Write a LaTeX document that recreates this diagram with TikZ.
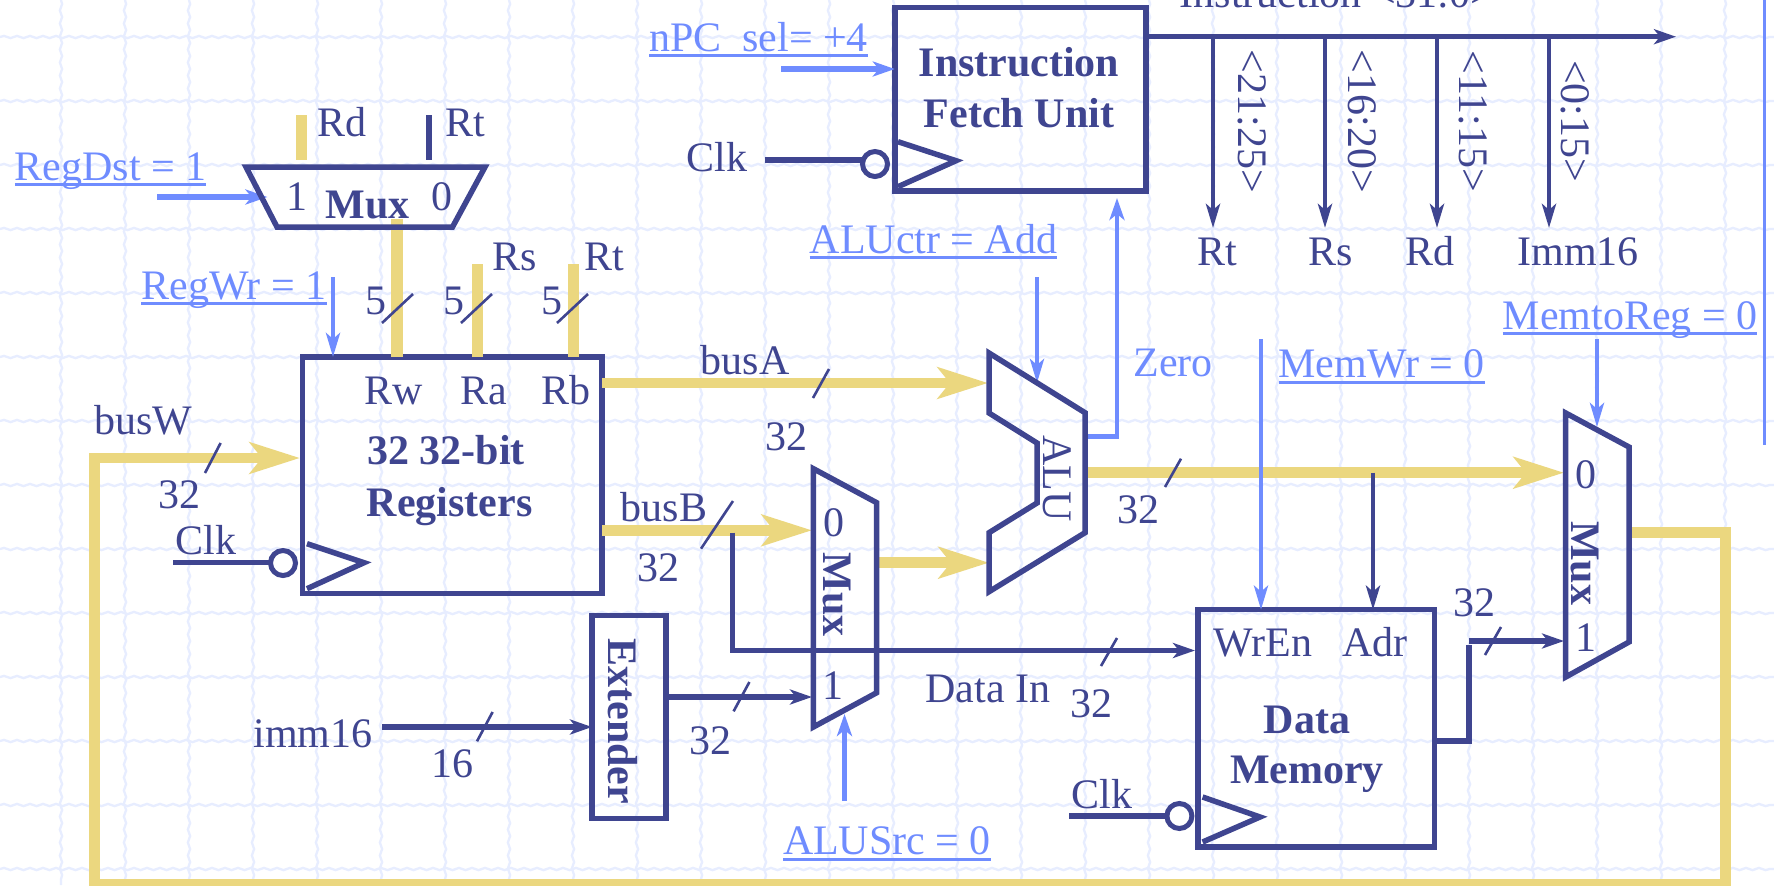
\documentclass[tikz,border=0pt]{standalone}
\usepackage{fontspec}
\setmainfont{Liberation Serif}
\usetikzlibrary{arrows.meta,decorations.pathmorphing}
\definecolor{navy}{HTML}{3F4590}
\definecolor{gold}{HTML}{EBD77F}
\definecolor{sky}{HTML}{6F8CFF}
\definecolor{gridc}{HTML}{E7EDFF}
\tikzset{
  gridline/.style={draw=gridc,line width=1.15pt,decorate,decoration={snake,segment length=6.5pt,amplitude=0.55pt}},
  boxn/.style={draw=navy,line width=2.75pt,inner sep=0pt,outer sep=0pt},
  shapeline/.style={draw=navy,line width=2.75pt,line join=miter},
  txt/.style={font=\fontsize{21}{25}\selectfont,text=navy,inner sep=0pt,outer sep=0pt,anchor=base,yshift=-0.6pt},
  btxt/.style={txt,font=\fontsize{21}{25}\selectfont\bfseries},
  ctl/.style={txt,text=sky},
  rot/.style={rotate=-90},
  goldw/.style={draw=gold,line width=5.3pt},
  goldhead/.style={goldw,-{Stealth[length=25pt,width=15.5pt,inset=6pt,color=gold]}},
  navyw/.style={draw=navy,line width=2.75pt},
  navyhead/.style={navyw,-{Stealth[length=11pt,width=7.5pt,inset=3pt,color=navy]}},
  navythin/.style={draw=navy,line width=2.2pt,-{Stealth[length=12pt,width=7pt,inset=3pt,color=navy]}},
  skyhead/.style={draw=sky,line width=2.3pt,-{Stealth[length=11pt,width=7.5pt,inset=3pt,color=sky]}},
  skyfat/.style={skyhead,line width=2.75pt},
  skythin/.style={draw=sky,line width=2.1pt,-{Stealth[length=12pt,width=7pt,inset=3pt,color=sky]}},
  tickmark/.style={draw=navy,line width=1.3pt},
  bubble/.style={circle,draw=navy,line width=2.5pt,minimum size=12.5pt,inner sep=0pt,outer sep=0pt},
  clkwire/.style={draw=navy,line width=2.75pt},
}
\newcommand{\lab}[4]{\node[txt] (#1) at (#2,#3) {#4};}
\newcommand{\blab}[4]{\node[btxt] (#1) at (#2,#3) {#4};}
\newcommand{\ulab}[4]{\node[ctl] (#1) at (#2,#3) {#4};
  \draw[sky,line width=1.5pt] ([yshift=-2.3pt]#1.base west) -- ([yshift=-2.3pt]#1.base east);}
\newcommand{\tickm}[4]{\draw[tickmark] (#1,#2) -- (#3,#4);}
\begin{document}
\begin{tikzpicture}[x=0.5pt,y=-0.5pt]
\useasboundingbox (0,0) rectangle (1774,885);
\fill[white] (0,0) rectangle (1774,885);
% background grid
\foreach \gx in {61,125,...,1725} {\draw[gridline] (\gx,0) -- (\gx,885);}
\foreach \gy in {37,101,...,869} {\draw[gridline] (0,\gy) -- (1774,\gy);}
\draw[sky,line width=1.5pt] (1764.5,0) -- (1764.5,445);

% ---- port coordinates
\coordinate (rdTop) at (301.5,115); \coordinate (rdBot) at (301.5,160);
\coordinate (rtTop) at (429,115);   \coordinate (rtBot) at (429,160);
\coordinate (rwTop) at (397,219);
\coordinate (raTop) at (477.4,264);
\coordinate (rbTop) at (573.5,264);
\coordinate (busAtip) at (988,383);
\coordinate (busBtip) at (812,530.3);
\coordinate (muxAluOut) at (877,562.7);
\coordinate (aluBtip) at (989,562.7);
\coordinate (aluOutL) at (1085,472.7);
\coordinate (mux3in0) at (1564,472.7);
\coordinate (mux3out) at (1629,532.7);
\coordinate (fbC1) at (1725.6,532.7);
\coordinate (fbC2) at (1725.6,884);
\coordinate (fbC3) at (94.5,884);
\coordinate (fbC4) at (94.5,458);
\coordinate (regsW) at (300,458);

% ---- boxes
\node[boxn,minimum width=125.5pt,minimum height=91.75pt] (ifu) at (1020.3,99.25) {};
\node[boxn,minimum width=149.7pt,minimum height=118.35pt] (regs) at (452.3,475.35) {};
\node[boxn,minimum width=37pt,minimum height=101.7pt] (ext) at (629,717) {};
\node[boxn,minimum width=118.25pt,minimum height=118.65pt] (dmem) at (1316.25,728.35) {};

% ---- gold buses
\draw[gold,line width=5.6pt] (rdTop) -- (rdBot);
\draw[gold,line width=5.6pt] (rwTop) -- (rwTop |- regs.north);
\draw[gold,line width=5.6pt] (raTop) -- (raTop |- regs.north);
\draw[gold,line width=5.6pt] (rbTop) -- (rbTop |- regs.north);
\draw[goldhead] (regs.east |- busAtip) -- (busAtip);
\draw[goldhead] (regs.east |- busBtip) -- (busBtip);
\draw[goldhead] (muxAluOut) -- (aluBtip);
\draw[goldhead] (aluOutL) -- (mux3in0);
\draw[goldhead,line join=miter] (mux3out) -- (fbC1) -- (fbC2) -- (fbC3) -- (fbC4) -- (regsW);

% ---- control lines and sky arrows
\coordinate (npcS) at (781,69);
\draw[skyfat] (npcS) -- (ifu.west |- npcS);
\coordinate (rdS) at (157,197); \coordinate (rdE) at (267.5,197);
\draw[skyfat] (rdS) -- (rdE);
\coordinate (rwS) at (333,277);
\draw[skythin] (rwS) -- (rwS |- regs.north);
\coordinate (aluS) at (1037,277); \coordinate (aluE) at (1037,383);
\draw[skythin] (aluS) -- (aluE);
\coordinate (zeroS) at (1085,436.7); \coordinate (zeroC) at (1117,436.7); \coordinate (zeroE) at (1117,198);
\draw[skyhead,line join=miter] (zeroS) -- (zeroC) -- (zeroE);
\coordinate (mwS) at (1261,339);
\draw[skythin] (mwS) -- (mwS |- dmem.north);
\coordinate (mrS) at (1597,339); \coordinate (mrE) at (1597,427);
\draw[skythin] (mrS) -- (mrE);
\coordinate (srcS) at (844.5,801); \coordinate (srcE) at (844.5,714);
\draw[skyhead] (srcS) -- (srcE);

% ---- navy wires
\draw[draw=navy,line width=3pt] (rtTop) -- (rtBot);
\coordinate (insEnd) at (1676,36.7);
\draw[navyhead] (ifu.east |- insEnd) -- (insEnd);
\foreach \bx/\bn in {1213/a,1325/b,1437/c,1549/d} {
  \coordinate (br\bn) at (\bx,36.7);
  \coordinate (bre\bn) at (\bx,228);
  \draw[navythin,line width=2.4pt] (br\bn) -- (bre\bn);
}
\coordinate (bbS) at (732.5,532.7); \coordinate (bbC) at (732.5,650.5); \coordinate (bbE) at (1195,650.5);
\draw[navyhead,line join=miter] (bbS) -- (bbC) -- (bbE);
\coordinate (immS) at (382,727);
\draw[navyhead] (immS) -- (ext.west |- immS);
\coordinate (extE) at (812,697);
\draw[navyhead] (ext.east |- extE) -- (extE);
\coordinate (adrS) at (1373,472.7);
\draw[navythin] (adrS) -- (adrS |- dmem.north);
\coordinate (dmO) at (1469,741); \coordinate (dmU) at (1469,645);
\draw[navyw,line join=miter] (dmem.east |- dmO) -- (dmO) -- (dmU);
\coordinate (m32S) at (1469,641); \coordinate (m32E) at (1564,641);
\draw[navyhead] (m32S) -- (m32E);

% ---- clock inputs
\node[bubble] (ifuBub) at (875,164) {};
\node[bubble] (regsBub) at (283,563) {};
\node[bubble] (dmemBub) at (1179.4,816) {};
\coordinate (ifuClk) at (765,160);
\coordinate (regsClk) at (173,562.7);
\coordinate (dmemClk) at (1069,816);
\draw[clkwire] (ifuClk) -- (ifuBub.west |- ifuClk);
\draw[clkwire] (regsClk) -- (regsBub.west |- regsClk);
\draw[clkwire] (dmemClk) -- (dmemBub.west |- dmemClk);
\draw[shapeline] (898,141.7) -- (956,160.7) -- (898,186.7);
\draw[shapeline] (307,543.7) -- (364,562.7) -- (307,588.7);
\draw[shapeline] (1202.6,797) -- (1260,817) -- (1202.6,842);

% ---- multiplexers and ALU
\draw[shapeline] (246,167) -- (485,167) -- (452.5,227) -- (277,227) -- cycle;
\draw[shapeline] (813.4,468.7) -- (876.7,502.7) -- (876.7,692.7) -- (813.4,727) -- cycle;
\draw[shapeline] (1565.7,413) -- (1629,447) -- (1629,642) -- (1565.7,677) -- cycle;
\draw[shapeline] (989,353) -- (1085,412.7) -- (1085,532.7) -- (989,591.7) -- (989,532.7)
   -- (1037,503) -- (1037,443) -- (989,413) -- cycle;

% ---- slash marks
\tickm{382}{323}{413}{294}
\tickm{461}{323}{492}{294}
\tickm{557}{323}{588}{294}
\tickm{813}{398}{829}{369}
\tickm{205}{473}{220.6}{443}
\tickm{701}{548.7}{733}{501}
\tickm{1101}{666}{1117}{638}
\tickm{733.6}{711.3}{749.4}{682}
\tickm{477}{741.3}{492.6}{712}
\tickm{1165}{487}{1181}{458.7}
\tickm{1485}{655}{1501}{627}

% ---- labels
\lab{tIns}{1337}{6}{Instruction <31:0>}
\ulab{tNpc}{758.5}{50}{nPC\_sel= +4}
\blab{tIfuA}{1019}{75}{Instruction}
\blab{tIfuB}{1019}{126}{Fetch Unit}
\lab{tClkA}{717}{170}{Clk}
\node[txt,rot] (tBa) at (1238,120) {<21:25>};
\node[txt,rot] (tBb) at (1348,120) {<16:20>};
\node[txt,rot] (tBc) at (1459,120) {<11:15>};
\node[txt,rot] (tBd) at (1561,120) {<0:15>};
\lab{tOa}{1217}{264}{Rt}
\lab{tOb}{1331}{264}{Rs}
\lab{tOc}{1430}{264}{Rd}
\lab{tOd}{1578}{264}{Imm16}
\ulab{tAluCtr}{933.5}{252}{ALUctr = Add}
\ulab{tRegDst}{110.6}{179}{RegDst = 1}
\lab{tRd}{342}{135}{Rd}
\lab{tRt}{465}{135}{Rt}
\lab{tM1}{297}{209}{1}
\blab{tMux1}{367.5}{217}{Mux}
\lab{tM0}{442}{209}{0}
\ulab{tRegWr}{234}{298}{RegWr = 1}
\lab{tRs2}{515}{269}{Rs}
\lab{tRt2}{604}{269}{Rt}
\lab{tFa}{376}{313}{5}
\lab{tFb}{454}{313}{5}
\lab{tFc}{551.5}{313}{5}
\lab{tRw}{394}{403}{Rw}
\lab{tRa}{484}{403}{Ra}
\lab{tRb}{565.6}{403}{Rb}
\blab{tRegA}{446}{463.7}{32 32-bit}
\blab{tRegB}{449.6}{515}{Registers}
\lab{tBusA}{745}{373}{busA}
\lab{t32a}{786}{449}{32}
\lab{tBusW}{143}{433}{busW}
\lab{t32b}{179}{507}{32}
\lab{tClkB}{206}{553.7}{Clk}
\lab{tBusB}{664}{520}{busB}
\lab{t32c}{658}{580}{32}
\lab{tZero}{1173}{375}{\textcolor{sky}{Zero}}
\ulab{tMemWr}{1381.7}{376.7}{MemWr = 0}
\ulab{tMemto}{1630}{328}{MemtoReg = 0}
\node[txt,rot] (tAlu) at (1043,477) {ALU};
\lab{t32d}{1138}{522}{32}
\lab{tMa0}{834}{535}{0}
\node[btxt,rot] (tMux2) at (823,593.5) {Mux};
\lab{tMa1}{833}{698.7}{1}
\lab{tMb0}{1586}{487}{0}
\node[btxt,rot] (tMux3) at (1571,562) {Mux};
\lab{tMb1}{1586}{650}{1}
\node[btxt,rot] (tExt) at (608,720) {Extender};
\lab{t32e}{710}{753.7}{32}
\lab{tImm}{313}{746}{imm16}
\lab{t16}{452}{776}{16}
\ulab{tSrc}{887}{853.7}{ALUSrc = 0}
\lab{tDin}{988}{701}{Data In}
\lab{t32f}{1091}{716}{32}
\lab{t32g}{1474}{615}{32}
\lab{tWrEn}{1263}{655}{WrEn}
\lab{tAdr}{1375}{655}{Adr}
\blab{tDa}{1307}{732}{Data}
\blab{tDb}{1307}{782}{Memory}
\lab{tClkC}{1102}{807}{Clk}
\end{tikzpicture}
\end{document}
